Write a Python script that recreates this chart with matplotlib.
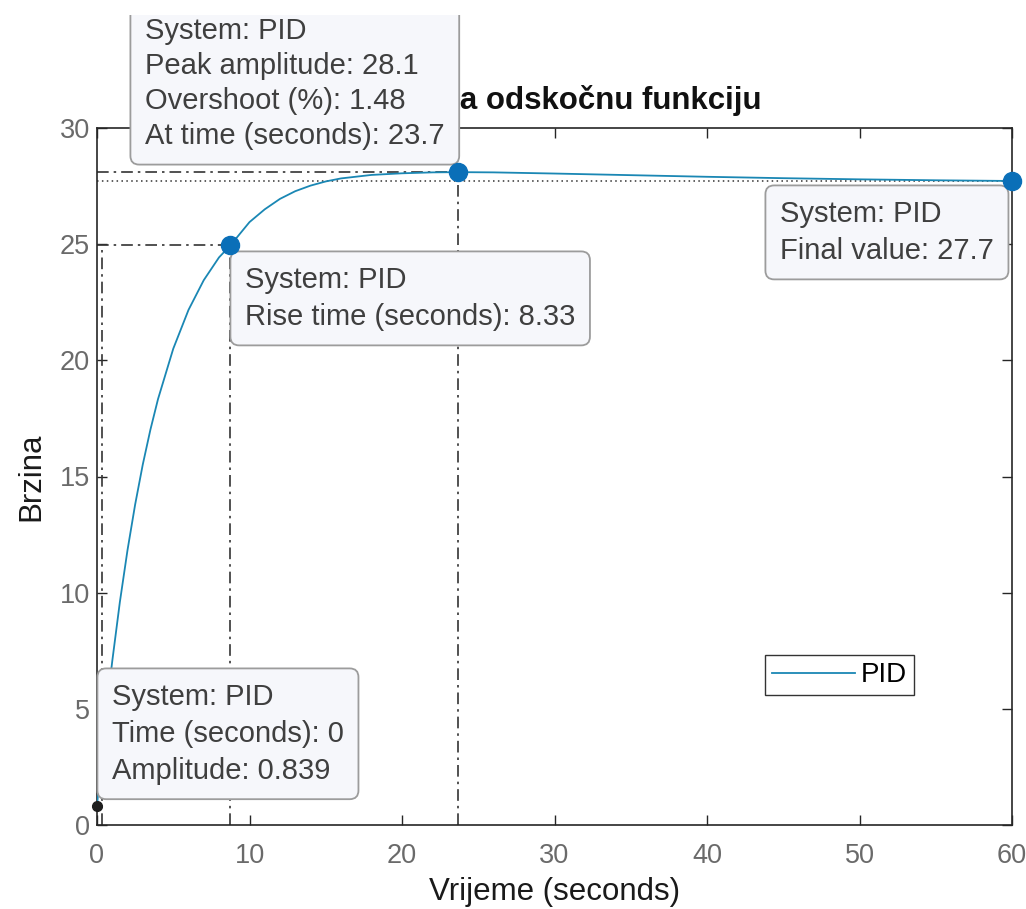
import matplotlib.pyplot as plt
from matplotlib.patches import Rectangle

plt.rcParams['font.family'] = ['Liberation Sans', 'DejaVu Sans']

# step response
t = [0, 0.25, 0.5, 0.75, 1, 1.5, 2, 2.5, 3, 3.5, 4, 5, 6, 7, 8, 8.75,
     10, 11, 12, 13, 14, 15, 16, 18, 20, 22, 23.7, 26, 30, 35, 40, 45, 50, 55, 60]
y = [0.839, 2.55, 4.14, 5.64, 7.05, 9.6, 11.83, 13.79, 15.51, 17.01, 18.33, 20.5,
     22.17, 23.45, 24.43, 24.95, 25.95, 26.5, 26.95, 27.28, 27.52, 27.7, 27.83,
     27.98, 28.05, 28.09, 28.1, 28.09, 28.04, 27.97, 27.9, 27.84, 27.79, 27.75, 27.72]

peak_t, peak_y = 23.7, 28.1
rise_t10, rise_t90, rise_y90 = 0.35, 8.75, 24.95
final_t, final_y = 60, 27.7
init_t, init_y = 0, 0.839

xticks = [0, 10, 20, 30, 40, 50, 60]
yticks = [0, 5, 10, 15, 20, 25, 30]

W, H = 1026, 909
fig = plt.figure(figsize=(W / 100, H / 100), dpi=100)
ax = fig.add_axes([97 / W, 1 - 825 / H, 915 / W, 697 / H])

line_c = '#1a87b4'
mark_c = '#0a6fb8'
ref_c = '#333333'
dd = (0, (7, 3, 1.5, 3))

ax.plot(t, y, color=line_c, lw=1.3, label='PID', zorder=3)

# characteristic lines
ax.plot([0, final_t], [final_y, final_y], color=ref_c, lw=1.1, ls=(0, (1, 2.2)), zorder=2)
ax.plot([0, peak_t], [peak_y, peak_y], color=ref_c, lw=1.2, ls=dd, zorder=2)
ax.plot([peak_t, peak_t], [0, peak_y], color=ref_c, lw=1.2, ls=dd, zorder=2)
ax.plot([0, rise_t90], [rise_y90, rise_y90], color=ref_c, lw=1.2, ls=dd, zorder=2)
ax.plot([rise_t10, rise_t10], [0, rise_y90], color=ref_c, lw=1.2, ls=dd, zorder=2)
ax.plot([rise_t90, rise_t90], [0, rise_y90], color=ref_c, lw=1.2, ls=dd, zorder=2)

ax.plot([peak_t, rise_t90, final_t], [peak_y, rise_y90, final_y], 'o', color=mark_c,
        ms=13, clip_on=False, zorder=12)
ax.plot([init_t], [init_y], 'o', color='#1e1e1e', ms=7, clip_on=False, zorder=12)

ax.set_xlim(0, 60)
ax.set_ylim(0, 30)
ax.set_xticks(xticks)
ax.set_yticks(yticks)
ax.tick_params(direction='in', length=7, width=1, top=True, right=True,
               labelsize=19.5, labelcolor='#6a6a6a', color='#262626')
ax.tick_params(axis='x', pad=13)
ax.tick_params(axis='y', pad=5)
for s in ax.spines.values():
    s.set_color('#262626')
    s.set_linewidth(1.2)

ax.set_xlabel('Vrijeme (seconds)', fontsize=22.5, color='#1a1a1a', labelpad=6)
ax.set_ylabel('Brzina', fontsize=22.5, color='#1a1a1a', labelpad=10)
ax.set_title('Odziv na odskočnu funkciju', fontsize=22.5, fontweight='bold',
             color='#111111', pad=14)

leg = ax.legend(loc='lower left', bbox_to_anchor=(0.73, 0.186), borderaxespad=0,
                fontsize=20, fancybox=False, edgecolor='#333333', handlelength=3.0,
                handletextpad=0.2, borderpad=0.25, framealpha=1)
leg.get_frame().set_linewidth(1.0)

box = dict(boxstyle='round,pad=0.5,rounding_size=0.3', fc='#f6f7fb', ec='#9c9c9c', lw=1.3)


def tip(xp, yp, text, va, ls=1.4):
    ax.text(xp / W, 1 - yp / H, text, transform=fig.transFigure, ha='left', va=va,
            fontsize=21, color='#3f3f3f', linespacing=ls, bbox=box, zorder=11)


tip(145, 150, 'System: PID\nPeak amplitude: 28.1\nOvershoot (%): 1.48\nAt time (seconds): 23.7',
    'bottom', ls=1.32)
tip(245, 266, 'System: PID\nRise time (seconds): 8.33', 'top')
tip(780, 200, 'System: PID\nFinal value: 27.7', 'top')
tip(112, 683, 'System: PID\nTime (seconds): 0\nAmplitude: 0.839', 'top')

fig.add_artist(Rectangle((0, 1 - 15 / H), 1, 15 / H, transform=fig.transFigure,
                         fc='white', ec='none', zorder=100))

fig.savefig('out.png', dpi=100, facecolor='white')
